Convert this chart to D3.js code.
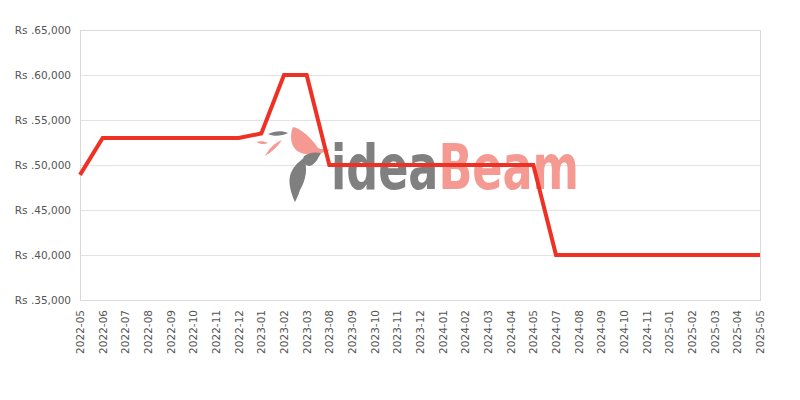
<!DOCTYPE html>
<html><head><meta charset="utf-8">
<script src="https://cdn.jsdelivr.net/npm/d3@7"></script>
<style>body{margin:0;background:#fff;}svg{display:block;font-family:"DejaVu Sans",sans-serif;}</style>
</head><body><svg id="c" width="800" height="400"></svg>
<script>
const months = ["2022-05","2022-06","2022-07","2022-08","2022-09","2022-10","2022-11","2022-12","2023-01","2023-02","2023-03","2023-08","2023-09","2023-10","2023-11","2023-12","2024-01","2024-02","2024-03","2024-04","2024-05","2024-07","2024-08","2024-09","2024-10","2024-11","2025-01","2025-02","2025-03","2025-04","2025-05"];
const prices = [48900,53000,53000,53000,53000,53000,53000,53000,53500,60000,60000,50000,50000,50000,50000,50000,50000,50000,50000,50000,50000,40000,40000,40000,40000,40000,40000,40000,40000,40000,40000];
const yTicks = [35000,40000,45000,50000,55000,60000,65000];

const svg = d3.select("#c");
const L=80,R=760,T=30,B=300;
const x = d3.scalePoint().domain(months).range([L,R]);
const y = d3.scaleLinear().domain([35000,65000]).range([B,T]);

// grid
svg.append("g").selectAll("line").data(yTicks).join("line")
  .attr("x1",L).attr("x2",R).attr("y1",d=>y(d)).attr("y2",d=>y(d))
  .attr("stroke","#e3e3e3").attr("stroke-width",1).attr("shape-rendering","crispEdges");
svg.append("rect").attr("x",L).attr("y",T).attr("width",R-L).attr("height",B-T)
  .attr("fill","none").attr("stroke","#d9d9d9").attr("shape-rendering","crispEdges");

// watermark
const wm = svg.append("g");
const wt = wm.append("text").attr("x",331).attr("y",189)
  .attr("font-family","'DejaVu Sans Condensed','DejaVu Sans',sans-serif").attr("font-weight","bold")
  .attr("font-size",62).attr("textLength",248).attr("lengthAdjust","spacingAndGlyphs");
wt.append("tspan").attr("fill","#808080").text("idea");
wt.append("tspan").attr("fill","#f59a92").text("Beam");
// logo approximations
wm.append("path").attr("d","M293,127 C300,128 312,138 318,148 C322,150 326,148 330,150 C320,154 306,158 296,150 C290,144 290,134 293,127 Z").attr("fill","#f59a92");
wm.append("path").attr("d","M268,134 C274,131 282,130 288,133 C282,136 274,137 268,134 Z").attr("fill","#7f7f7f");
wm.append("path").attr("d","M282,140 C278,146 272,152 265,156 C268,150 274,143 282,140 Z").attr("fill","#f59a92");
wm.append("path").attr("d","M256,142 C260,141 264,141 268,143 C264,145 260,144 256,142 Z").attr("fill","#f59a92");
wm.append("path").attr("d","M321,153 C318,158 316,164 310,166 C304,166 302,160 304,156 C310,152 316,152 321,153 Z").attr("fill","#7f7f7f");
wm.append("path").attr("d","M304,158 C308,168 306,180 300,190 C298,196 296,200 295,202 C292,196 288,184 290,176 C292,168 298,162 304,158 Z").attr("fill","#7f7f7f");

// axes labels
svg.append("g").selectAll("text").data(yTicks).join("text")
  .attr("x",71).attr("y",d=>y(d)).attr("dy","0.35em").attr("text-anchor","end")
  .attr("font-size",10.5).attr("fill","#555")
  .text(d=>"Rs ."+d3.format(",")(d));
svg.append("g").selectAll("text").data(months).join("text")
  .attr("transform",d=>`translate(${x(d)+4},310) rotate(-90)`)
  .attr("text-anchor","end").attr("font-size",10.5).attr("fill","#555")
  .text(d=>d);

// line
svg.append("path").datum(months.map((m,i)=>[m,prices[i]]))
  .attr("fill","none").attr("stroke","#ee3124").attr("stroke-width",4).attr("stroke-linejoin","miter")
  .attr("d",d3.line().x(d=>x(d[0])).y(d=>y(d[1])));
</script></body></html>
